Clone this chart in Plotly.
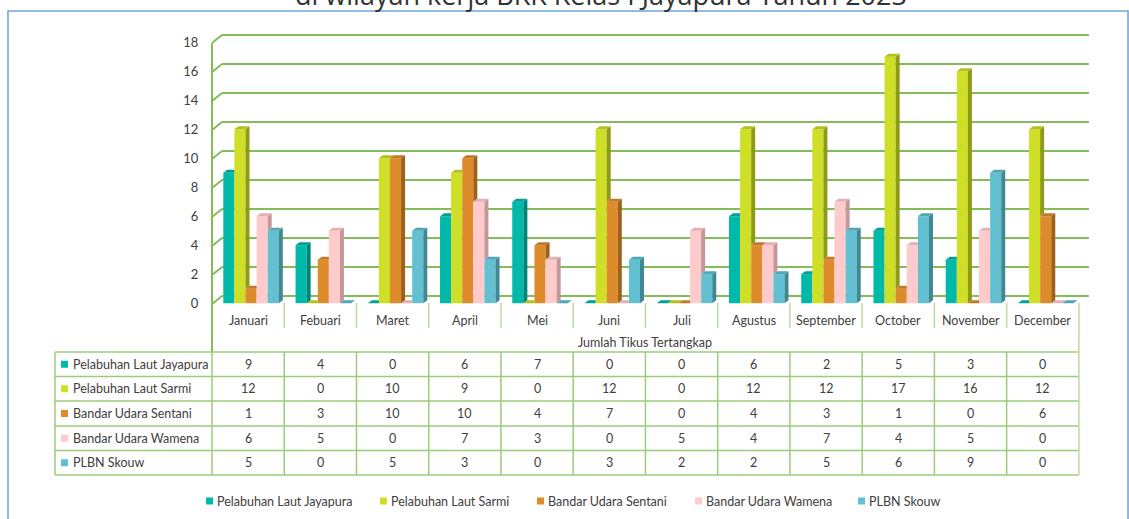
import plotly.graph_objects as go

# ---------------- data ----------------
months = ["Januari", "Febuari", "Maret", "April", "Mei", "Juni", "Juli",
          "Agustus", "September", "October", "November", "December"]
series_names = ["Pelabuhan Laut Jayapura", "Pelabuhan Laut Sarmi",
                "Bandar Udara Sentani", "Bandar Udara Wamena", "PLBN Skouw"]
jayapura = [9, 4, 0, 6, 7, 0, 0, 6, 2, 5, 3, 0]
sarmi = [12, 0, 10, 9, 0, 12, 0, 12, 12, 17, 16, 12]
sentani = [1, 3, 10, 10, 4, 7, 0, 4, 3, 1, 0, 6]
wamena = [6, 5, 0, 7, 3, 0, 5, 4, 7, 4, 5, 0]
skouw = [5, 0, 5, 3, 0, 3, 2, 2, 5, 6, 9, 0]
y_ticks = [0, 2, 4, 6, 8, 10, 12, 14, 16, 18]
x_axis_title = "Jumlah Tikus Tertangkap"
title_text = "di wilayah kerja BKK Kelas I Jayapura Tahun 2023"

series_values = [jayapura, sarmi, sentani, wamena, skouw]

# ---------------- style ----------------
front_colors = ["#00B9A8", "#CFDE26", "#DE8B2C", "#FFCACB", "#63C0D0"]
side_colors = ["#00857A", "#8E9B16", "#9E611B", "#C49798", "#3F8894"]
top_colors = ["#00A194", "#B3C11F", "#C27826", "#E3B1B2", "#4FA7B6"]
GRID = "#84BC5A"
TABLE = "#9CCB7C"
HEADSEP = "#B9DBA3"
TXT = "#404040"
FONT = "Lato"

# ---------------- geometry (pixels) ----------------
W, H = 1129, 519
PL, PR, PT, PB = 212, 1089, 28, 306
N = len(months)
X_MAX = 12.14
x_scale = (PR - PL) / X_MAX
Y_BASE_PX = 303.2
y_scale = 14.5
y_lo = (Y_BASE_PX - PB) / y_scale
y_hi = (Y_BASE_PX - PT) / y_scale


def pxx(px):
    return (px - PL) / (PR - PL)


def pxy(py):
    return (PB - py) / (PB - PT)


BAR_START = 11.3 / x_scale
BAR_W = 11.1 / x_scale
DX = 4 / x_scale
DY = 3 / y_scale
BACK_DX = 10 / x_scale
BACK_OFF = (Y_BASE_PX - 296) / y_scale
FRONT_OFF = (Y_BASE_PX - 304) / y_scale

fig = go.Figure()

# front faces (bars)
cat_x = list(range(N))
for k, (name, vals) in enumerate(zip(series_names, series_values)):
    fig.add_trace(go.Bar(
        x=cat_x, y=vals, base=0, offset=BAR_START + k * BAR_W, width=BAR_W,
        marker=dict(color=front_colors[k], line=dict(width=0)),
        name=name, showlegend=False, hoverinfo="skip"))

# 3D side and top faces
for k in range(len(series_values)):
    sx, sy, tx, ty = [], [], [], []
    for i in range(N):
        v = series_values[k][i]
        a = i + BAR_START + k * BAR_W
        b = a + BAR_W
        u = series_values[k + 1][i] if k < len(series_values) - 1 else 0
        if u < v:
            sx += [b, b + DX, b + DX, b, None]
            sy += [u, u + DY, v + DY, v, None]
        if u > v:
            tx += [a, a + DX, b, b, None]
            ty += [v, v + DY, v + DY, v, None]
        else:
            tx += [a, a + DX, b + DX, b, None]
            ty += [v, v + DY, v + DY, v, None]
    fig.add_trace(go.Scatter(x=sx, y=sy, mode="lines", fill="toself",
                             fillcolor=side_colors[k], line=dict(width=0, color=side_colors[k]),
                             showlegend=False, hoverinfo="skip"))
    fig.add_trace(go.Scatter(x=tx, y=ty, mode="lines", fill="toself",
                             fillcolor=top_colors[k], line=dict(width=0, color=top_colors[k]),
                             showlegend=False, hoverinfo="skip"))

shapes = []
# back wall gridlines + side wall diagonals
for g in y_ticks:
    shapes.append(dict(type="line", xref="x", yref="y", layer="below",
                       x0=BACK_DX, x1=N + BACK_DX, y0=g + BACK_OFF, y1=g + BACK_OFF,
                       line=dict(color=GRID, width=2)))
    shapes.append(dict(type="line", xref="x", yref="y", layer="below",
                       x0=0, x1=BACK_DX, y0=g + FRONT_OFF, y1=g + BACK_OFF,
                       line=dict(color=GRID, width=2)))

# vertical axis line (front) extending into the table header
shapes.append(dict(type="line", xref="paper", yref="paper", x0=0, x1=0,
                   y0=pxy(43), y1=pxy(352), line=dict(color=GRID, width=2)))

# table
row_lines = [352, 376.5, 401, 426, 450.5, 475]
right_px = PL + N * x_scale
for ry in row_lines:
    shapes.append(dict(type="line", xref="paper", yref="paper",
                       x0=pxx(55), x1=pxx(right_px), y0=pxy(ry), y1=pxy(ry),
                       line=dict(color=TABLE, width=1.5)))
shapes.append(dict(type="line", xref="paper", yref="paper", x0=pxx(55), x1=pxx(55),
                   y0=pxy(352), y1=pxy(475), line=dict(color=TABLE, width=1.5)))
shapes.append(dict(type="line", xref="paper", yref="paper", x0=0, x1=0,
                   y0=pxy(352), y1=pxy(475), line=dict(color=TABLE, width=1.5)))
for i in range(1, N):
    shapes.append(dict(type="line", xref="x", yref="paper", x0=i, x1=i,
                       y0=pxy(303), y1=pxy(328), line=dict(color=HEADSEP, width=1.5)))
    shapes.append(dict(type="line", xref="x", yref="paper", x0=i, x1=i,
                       y0=pxy(352), y1=pxy(475), line=dict(color=TABLE, width=1.5)))
shapes.append(dict(type="line", xref="x", yref="paper", x0=N, x1=N,
                   y0=pxy(303), y1=pxy(475), line=dict(color=HEADSEP, width=1.5)))

# outer frame
shapes.append(dict(type="rect", xref="paper", yref="paper", x0=pxx(8), x1=pxx(1128),
                   y0=pxy(545), y1=pxy(11), line=dict(color="#6FA6DA", width=1.6),
                   fillcolor="rgba(0,0,0,0)", layer="below"))

annotations = []
# month header
for i, m in enumerate(months):
    annotations.append(dict(x=i + 0.5, y=pxy(320), xref="x", yref="paper", text=m,
                            showarrow=False, xanchor="center", yanchor="middle",
                            font=dict(family=FONT, size=12.5, color=TXT)))
annotations.append(dict(x=N / 2, y=pxy(342), xref="x", yref="paper", text=x_axis_title,
                        showarrow=False, xanchor="center", yanchor="middle",
                        font=dict(family=FONT, size=12.5, color=TXT)))
# rows
for r, (name, vals) in enumerate(zip(series_names, series_values)):
    cy = (row_lines[r] + row_lines[r + 1]) / 2
    shapes.append(dict(type="rect", xref="paper", yref="paper", x0=pxx(61), x1=pxx(68),
                       y0=pxy(cy + 3.5), y1=pxy(cy - 3.5), fillcolor=front_colors[r],
                       line=dict(width=0)))
    annotations.append(dict(x=pxx(71), y=pxy(cy), xref="paper", yref="paper", text=name,
                            showarrow=False, xanchor="left", yanchor="middle",
                            font=dict(family=FONT, size=12.5, color=TXT)))
    for i, v in enumerate(vals):
        annotations.append(dict(x=i + 0.5, y=pxy(cy), xref="x", yref="paper", text=str(v),
                                showarrow=False, xanchor="center", yanchor="middle",
                                font=dict(family=FONT, size=12.5, color=TXT)))

# legend (bottom)
legend_px = [206, 380, 537, 695, 858]
for k, name in enumerate(series_names):
    lx = legend_px[k]
    shapes.append(dict(type="rect", xref="paper", yref="paper", x0=pxx(lx), x1=pxx(lx + 7),
                       y0=pxy(504.5), y1=pxy(497.5), fillcolor=front_colors[k],
                       line=dict(width=0)))
    annotations.append(dict(x=pxx(lx + 9), y=pxy(501), xref="paper", yref="paper", text=name,
                            showarrow=False, xanchor="left", yanchor="middle",
                            font=dict(family=FONT, size=12.5, color=TXT)))

# (cut-off) title
annotations.append(dict(x=pxx(601), y=pxy(14.5), xref="paper", yref="paper", text=title_text,
                        showarrow=False, xanchor="center", yanchor="bottom",
                        font=dict(family="Open Sans", size=27, color="#333333")))

fig.update_layout(
    width=W, height=H, autosize=False,
    margin=dict(l=PL, r=W - PR, t=PT, b=H - PB, pad=0),
    paper_bgcolor="white", plot_bgcolor="rgba(0,0,0,0)",
    barmode="overlay", showlegend=False,
    xaxis=dict(range=[0, X_MAX], showgrid=False, zeroline=False, showline=False,
               showticklabels=False, ticks="", fixedrange=True),
    yaxis=dict(range=[y_lo, y_hi], tickvals=y_ticks, ticktext=[str(t) for t in y_ticks],
               showgrid=False, zeroline=False, showline=False, ticks="outside",
               ticklen=10, tickcolor="rgba(0,0,0,0)",
               tickfont=dict(family=FONT, size=13, color=TXT), fixedrange=True),
    shapes=shapes, annotations=annotations,
)

fig.write_html("out.html", config={"displayModeBar": False},
               post_script="document.body.style.margin='0';document.body.style.overflow='hidden';")
